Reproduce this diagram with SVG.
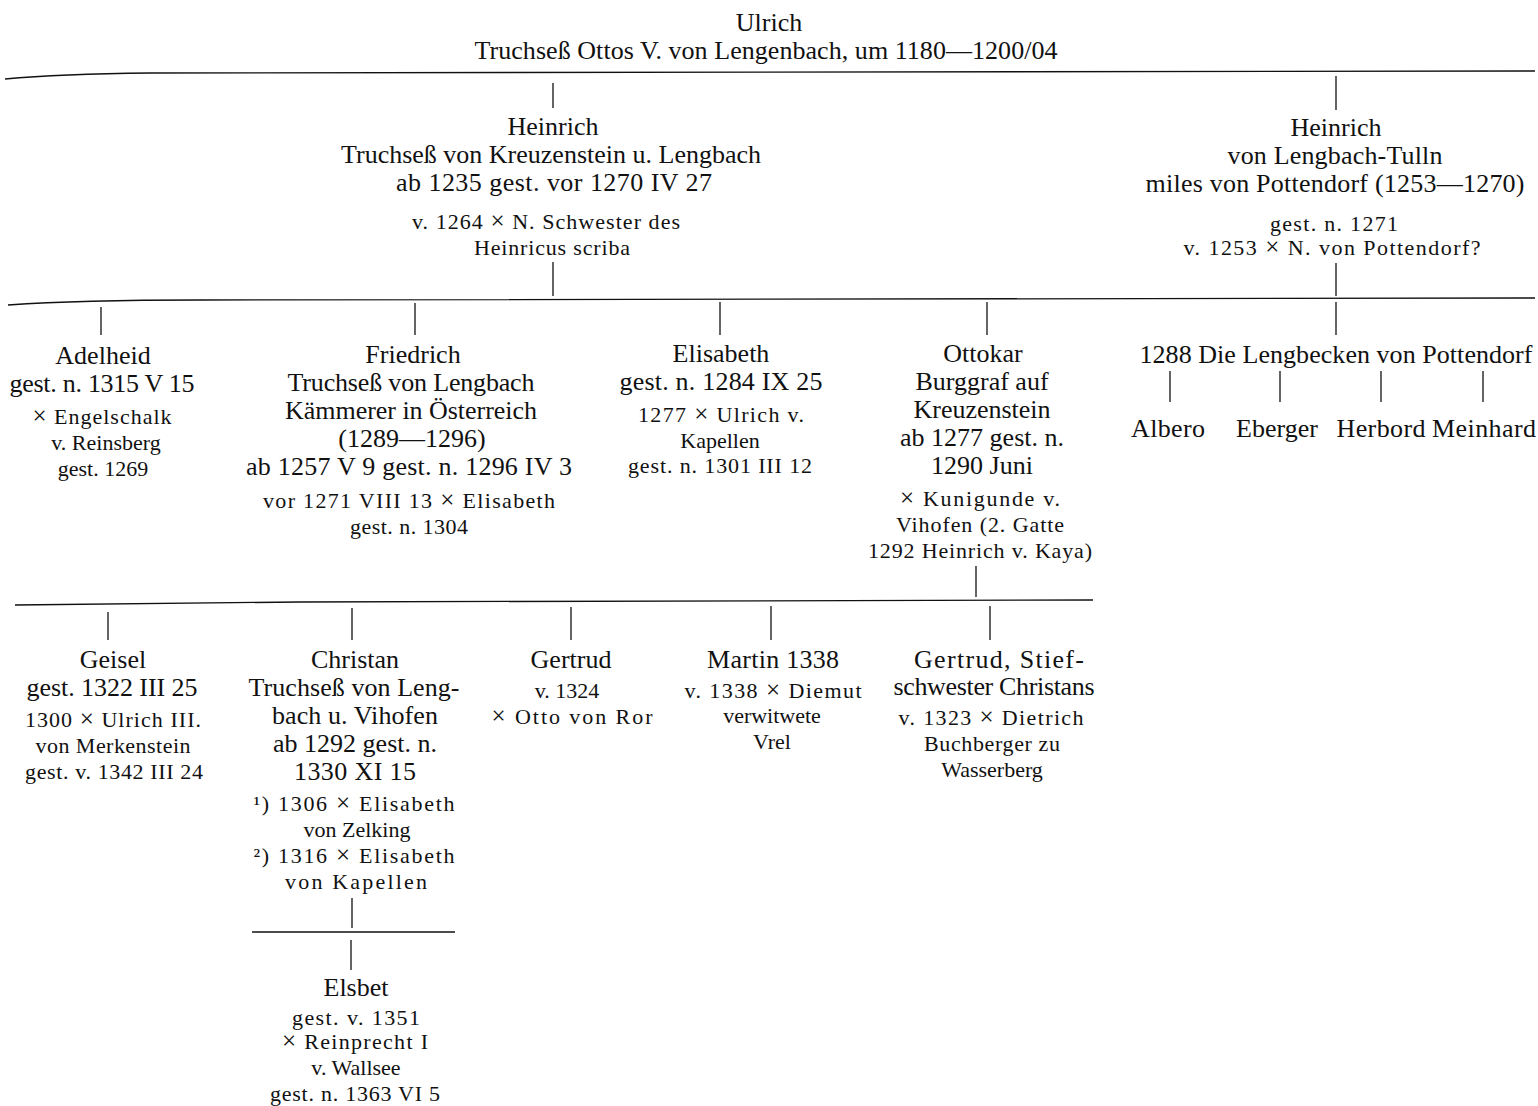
<svg xmlns="http://www.w3.org/2000/svg" width="1538" height="1106" viewBox="0 0 1538 1106">
<style>
text{font-family:"Liberation Serif","Times New Roman",serif;fill:#111;text-anchor:middle}
.n{font-size:26px}
.s{font-size:22px}
.x{font-size:25px}
.c{stroke:#111;stroke-width:1.3;fill:none}
</style>
<rect width="1538" height="1106" fill="#fff"/>
<g id="connectors" class="c">
<path d="M5,79 Q60,74 150,73 L1535,71"/>
<line x1="553" y1="83" x2="553" y2="108"/>
<line x1="1336" y1="76" x2="1336" y2="110"/>
<line x1="553" y1="262" x2="553" y2="296"/>
<line x1="1336" y1="263" x2="1336" y2="296"/>
<path d="M8,305 Q80,300 200,300 L1535,298"/>
<line x1="101" y1="307" x2="101" y2="335"/>
<line x1="415" y1="303" x2="415" y2="335"/>
<line x1="720" y1="302" x2="720" y2="335"/>
<line x1="987" y1="302" x2="987" y2="335"/>
<line x1="1336" y1="302" x2="1336" y2="335"/>
<line x1="1170" y1="371" x2="1170" y2="402"/>
<line x1="1280" y1="371" x2="1280" y2="402"/>
<line x1="1381" y1="371" x2="1381" y2="402"/>
<line x1="1483" y1="371" x2="1483" y2="402"/>
<line x1="976" y1="566" x2="976" y2="597"/>
<polyline points="15,605 300,602 1093,600"/>
<line x1="108" y1="612" x2="108" y2="640"/>
<line x1="352" y1="608" x2="352" y2="640"/>
<line x1="571" y1="607" x2="571" y2="640"/>
<line x1="771" y1="606" x2="771" y2="640"/>
<line x1="990" y1="606" x2="990" y2="640"/>
<line x1="352" y1="898" x2="352" y2="928"/>
<line x1="252" y1="932" x2="455" y2="932"/>
<line x1="351" y1="940" x2="351" y2="970"/>
</g>
<g id="ulrich">
<text class="n" x="769" y="31">Ulrich</text>
<text class="n" x="766" y="59" textLength="583" lengthAdjust="spacing">Truchseß Ottos V. von Lengenbach, um 1180—1200/04</text>
</g>
<g id="heinrich-kreuzenstein">
<text class="n" x="553" y="135">Heinrich</text>
<text class="n" x="551" y="163" textLength="420" lengthAdjust="spacing">Truchseß von Kreuzenstein u. Lengbach</text>
<text class="n" x="554" y="191" textLength="316" lengthAdjust="spacing">ab 1235 gest. vor 1270 IV 27</text>
<text class="s" x="546" y="229" textLength="268" lengthAdjust="spacing">v. 1264 <tspan class="x">×</tspan> N. Schwester des</text>
<text class="s" x="552" y="255" textLength="156" lengthAdjust="spacing">Heinricus scriba</text>
</g>
<g id="heinrich-tulln">
<text class="n" x="1336" y="136">Heinrich</text>
<text class="n" x="1335" y="164" textLength="215" lengthAdjust="spacing">von Lengbach-Tulln</text>
<text class="n" x="1335" y="192" textLength="379" lengthAdjust="spacing">miles von Pottendorf (1253—1270)</text>
<text class="s" x="1334" y="231" textLength="128" lengthAdjust="spacing">gest. n. 1271</text>
<text class="s" x="1332" y="255" textLength="297" lengthAdjust="spacing">v. 1253 <tspan class="x">×</tspan> N. von Pottendorf?</text>
</g>
<g id="adelheid">
<text class="n" x="103" y="364">Adelheid</text>
<text class="n" x="102" y="392" textLength="185" lengthAdjust="spacing">gest. n. 1315 V 15</text>
<text class="s" x="102" y="424" textLength="139" lengthAdjust="spacing"><tspan class="x">×</tspan> Engelschalk</text>
<text class="s" x="106" y="450">v. Reinsberg</text>
<text class="s" x="103" y="476">gest. 1269</text>
</g>
<g id="friedrich">
<text class="n" x="413" y="363">Friedrich</text>
<text class="n" x="411" y="391" textLength="247" lengthAdjust="spacing">Truchseß von Lengbach</text>
<text class="n" x="411" y="419" textLength="252" lengthAdjust="spacing">Kämmerer in Österreich</text>
<text class="n" x="412" y="447">(1289—1296)</text>
<text class="n" x="409" y="475" textLength="326" lengthAdjust="spacing">ab 1257 V 9 gest. n. 1296 IV 3</text>
<text class="s" x="409" y="508" textLength="292" lengthAdjust="spacing">vor 1271 VIII 13 <tspan class="x">×</tspan> Elisabeth</text>
<text class="s" x="409" y="534" textLength="118" lengthAdjust="spacing">gest. n. 1304</text>
</g>
<g id="elisabeth">
<text class="n" x="721" y="362">Elisabeth</text>
<text class="n" x="721" y="390" textLength="203" lengthAdjust="spacing">gest. n. 1284 IX 25</text>
<text class="s" x="721" y="422" textLength="166" lengthAdjust="spacing">1277 <tspan class="x">×</tspan> Ulrich v.</text>
<text class="s" x="720" y="448">Kapellen</text>
<text class="s" x="720" y="473" textLength="184" lengthAdjust="spacing">gest. n. 1301 III 12</text>
</g>
<g id="ottokar">
<text class="n" x="983" y="362">Ottokar</text>
<text class="n" x="982" y="390">Burggraf auf</text>
<text class="n" x="982" y="418" textLength="137" lengthAdjust="spacing">Kreuzenstein</text>
<text class="n" x="982" y="446" textLength="164" lengthAdjust="spacing">ab 1277 gest. n.</text>
<text class="n" x="982" y="474">1290 Juni</text>
<text class="s" x="980" y="506" textLength="160" lengthAdjust="spacing"><tspan class="x">×</tspan> Kunigunde v.</text>
<text class="s" x="980" y="532" textLength="168" lengthAdjust="spacing">Vihofen (2. Gatte</text>
<text class="s" x="980" y="558" textLength="224" lengthAdjust="spacing">1292 Heinrich v. Kaya)</text>
</g>
<g id="lengbecken">
<text class="n" x="1336" y="363" textLength="393" lengthAdjust="spacing">1288 Die Lengbecken von Pottendorf</text>
</g>
<g id="albero"><text class="n" x="1168" y="437" textLength="74" lengthAdjust="spacing">Albero</text></g>
<g id="eberger"><text class="n" x="1277" y="437" textLength="82" lengthAdjust="spacing">Eberger</text></g>
<g id="herbord"><text class="n" x="1381" y="437" textLength="89" lengthAdjust="spacing">Herbord</text></g>
<g id="meinhard"><text class="n" x="1484" y="437" textLength="104" lengthAdjust="spacing">Meinhard</text></g>
<g id="geisel">
<text class="n" x="113" y="668">Geisel</text>
<text class="n" x="112" y="696" textLength="171" lengthAdjust="spacing">gest. 1322 III 25</text>
<text class="s" x="113" y="727" textLength="176" lengthAdjust="spacing">1300 <tspan class="x">×</tspan> Ulrich III.</text>
<text class="s" x="113" y="753" textLength="155" lengthAdjust="spacing">von Merkenstein</text>
<text class="s" x="114" y="779" textLength="178" lengthAdjust="spacing">gest. v. 1342 III 24</text>
</g>
<g id="christan">
<text class="n" x="355" y="668">Christan</text>
<text class="n" x="354" y="696" textLength="211" lengthAdjust="spacing">Truchseß von Leng-</text>
<text class="n" x="355" y="724" textLength="166" lengthAdjust="spacing">bach u. Vihofen</text>
<text class="n" x="355" y="752" textLength="164" lengthAdjust="spacing">ab 1292 gest. n.</text>
<text class="n" x="355" y="780" textLength="122" lengthAdjust="spacing">1330 XI 15</text>
<text class="s" x="354" y="811" textLength="201" lengthAdjust="spacing">¹) 1306 <tspan class="x">×</tspan> Elisabeth</text>
<text class="s" x="357" y="837">von Zelking</text>
<text class="s" x="354" y="863" textLength="201" lengthAdjust="spacing">²) 1316 <tspan class="x">×</tspan> Elisabeth</text>
<text class="s" x="356" y="889" textLength="142" lengthAdjust="spacing">von Kapellen</text>
</g>
<g id="elsbet">
<text class="n" x="356" y="996">Elsbet</text>
<text class="s" x="356" y="1025" textLength="128" lengthAdjust="spacing">gest. v. 1351</text>
<text class="s" x="355" y="1049" textLength="146" lengthAdjust="spacing"><tspan class="x">×</tspan> Reinprecht I</text>
<text class="s" x="356" y="1075">v. Wallsee</text>
<text class="s" x="355" y="1101" textLength="170" lengthAdjust="spacing">gest. n. 1363 VI 5</text>
</g>
<g id="gertrud">
<text class="n" x="571" y="668">Gertrud</text>
<text class="s" x="567" y="698">v. 1324</text>
<text class="s" x="572" y="724" textLength="161" lengthAdjust="spacing"><tspan class="x">×</tspan> Otto von Ror</text>
</g>
<g id="martin">
<text class="n" x="773" y="668" textLength="132" lengthAdjust="spacing">Martin 1338</text>
<text class="s" x="773" y="698" textLength="177" lengthAdjust="spacing">v. 1338 <tspan class="x">×</tspan> Diemut</text>
<text class="s" x="772" y="723">verwitwete</text>
<text class="s" x="772" y="749">Vrel</text>
</g>
<g id="gertrud-stief">
<text class="n" x="999" y="668" textLength="170" lengthAdjust="spacing">Gertrud, Stief-</text>
<text class="n" x="994" y="695" textLength="201" lengthAdjust="spacing">schwester Christans</text>
<text class="s" x="991" y="725" textLength="185" lengthAdjust="spacing">v. 1323 <tspan class="x">×</tspan> Dietrich</text>
<text class="s" x="992" y="751" textLength="136" lengthAdjust="spacing">Buchberger zu</text>
<text class="s" x="992" y="777">Wasserberg</text>
</g>
</svg>
